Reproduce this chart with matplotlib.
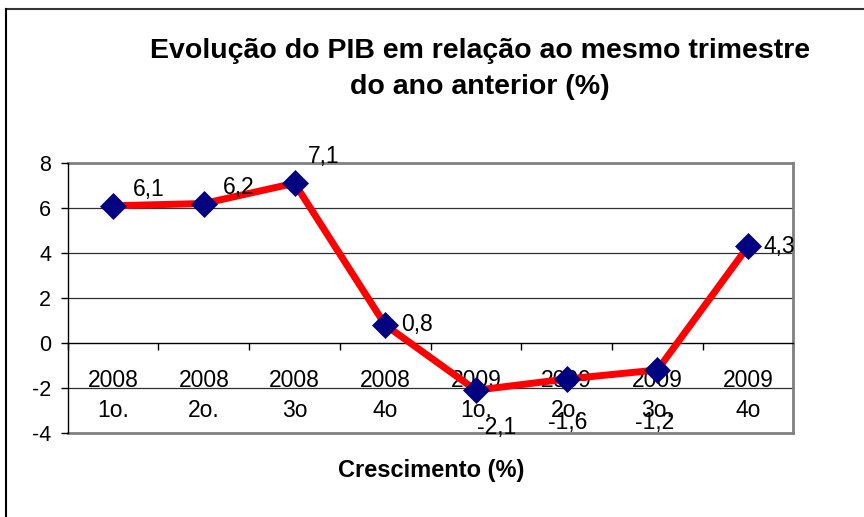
import matplotlib
matplotlib.use("Agg")
import matplotlib.pyplot as plt
from matplotlib.lines import Line2D
from matplotlib.ticker import FixedLocator

plt.rcParams["font.family"] = ["Liberation Sans", "DejaVu Sans"]
plt.rcParams["axes.unicode_minus"] = False

# data
years = ["2008", "2008", "2008", "2008", "2009", "2009", "2009", "2009"]
quarters = ["1o.", "2o.", "3o", "4o", "1o.", "2o.", "3o.", "4o"]
growth = [6.1, 6.2, 7.1, 0.8, -2.1, -1.6, -1.2, 4.3]
value_labels = ["6,1", "6,2", "7,1", "0,8", "-2,1", "-1,6", "-1,2", "4,3"]
y_ticks = [-4, -2, 0, 2, 4, 6, 8]

# label offsets (pixels) from each point
label_offsets = [(36, 16), (35, 16), (29, 27), (32, 0), (21, -37), (1, -44), (-3, -53), (31, 0)]

fig = plt.figure(figsize=(8.64, 5.17), dpi=100)
ax = fig.add_axes([0.0784, 0.1625, 0.8400, 0.5222])

x = list(range(len(growth)))
ax.plot(x, growth, color="#FF0000", lw=5, zorder=3,
        marker="D", markersize=13, markerfacecolor="#000080",
        markeredgecolor="#000080", markeredgewidth=0.5)

for xi, yi, txt, off in zip(x, growth, value_labels, label_offsets):
    ax.annotate(txt, (xi, yi), xytext=off, textcoords="offset pixels",
                ha="center", va="center", fontsize=16.5, zorder=4)

ax.set_xlim(-0.5, len(growth) - 0.5)
ax.set_ylim(-4, 8)
ax.set_yticks(y_ticks)
ax.tick_params(axis="y", direction="out", length=5, width=1, pad=7,
               labelsize=15.5, color="black")

# gridlines and plot area frame
for v in y_ticks:
    if v in (-4, 8):
        ax.axhline(v, color="#808080", lw=2, zorder=1, clip_on=False)
    elif v != 0:
        ax.axhline(v, color="#303030", lw=0.9, zorder=1)

ax.spines["bottom"].set_position(("data", 0))
ax.spines["bottom"].set_color("black")
ax.spines["bottom"].set_linewidth(1)
ax.spines["left"].set_color("black")
ax.spines["left"].set_linewidth(1)
ax.spines["left"].set_zorder(2)
ax.spines["top"].set_visible(False)
ax.spines["right"].set_color("#808080")
ax.spines["right"].set_linewidth(2)

ax.set_xticks(x)
ax.set_xticklabels([f"{a}\n{b}" for a, b in zip(years, quarters)])
ax.xaxis.set_minor_locator(FixedLocator([i - 0.5 for i in range(len(growth) + 1)]))
ax.tick_params(axis="x", which="major", length=0, pad=19, labelsize=16.5)
ax.tick_params(axis="x", which="minor", direction="out", length=5, width=1, color="black")
for lbl in ax.get_xticklabels():
    lbl.set_linespacing(1.35)
ax.xaxis.set_zorder(1.5)
ax.yaxis.set_zorder(1.5)

fig.text(480 / 864, 1 - 69 / 517,
         "Evolução do PIB em relação ao mesmo trimestre\ndo ano anterior (%)",
         ha="center", va="center", fontsize=20.5, fontweight="bold", linespacing=1.45)
fig.text(431 / 864, 1 - 470 / 517, "Crescimento (%)", ha="center", va="center",
         fontsize=17, fontweight="bold")

# outer chart border (top and left edges visible)
fig.add_artist(Line2D([5.5 / 864, 1], [1 - 9 / 517, 1 - 9 / 517],
                      transform=fig.transFigure, color="#333333", lw=1.5))
fig.add_artist(Line2D([5.5 / 864, 5.5 / 864], [0, 1 - 9 / 517],
                      transform=fig.transFigure, color="black", lw=1.5))

fig.savefig("out.png", dpi=100)
